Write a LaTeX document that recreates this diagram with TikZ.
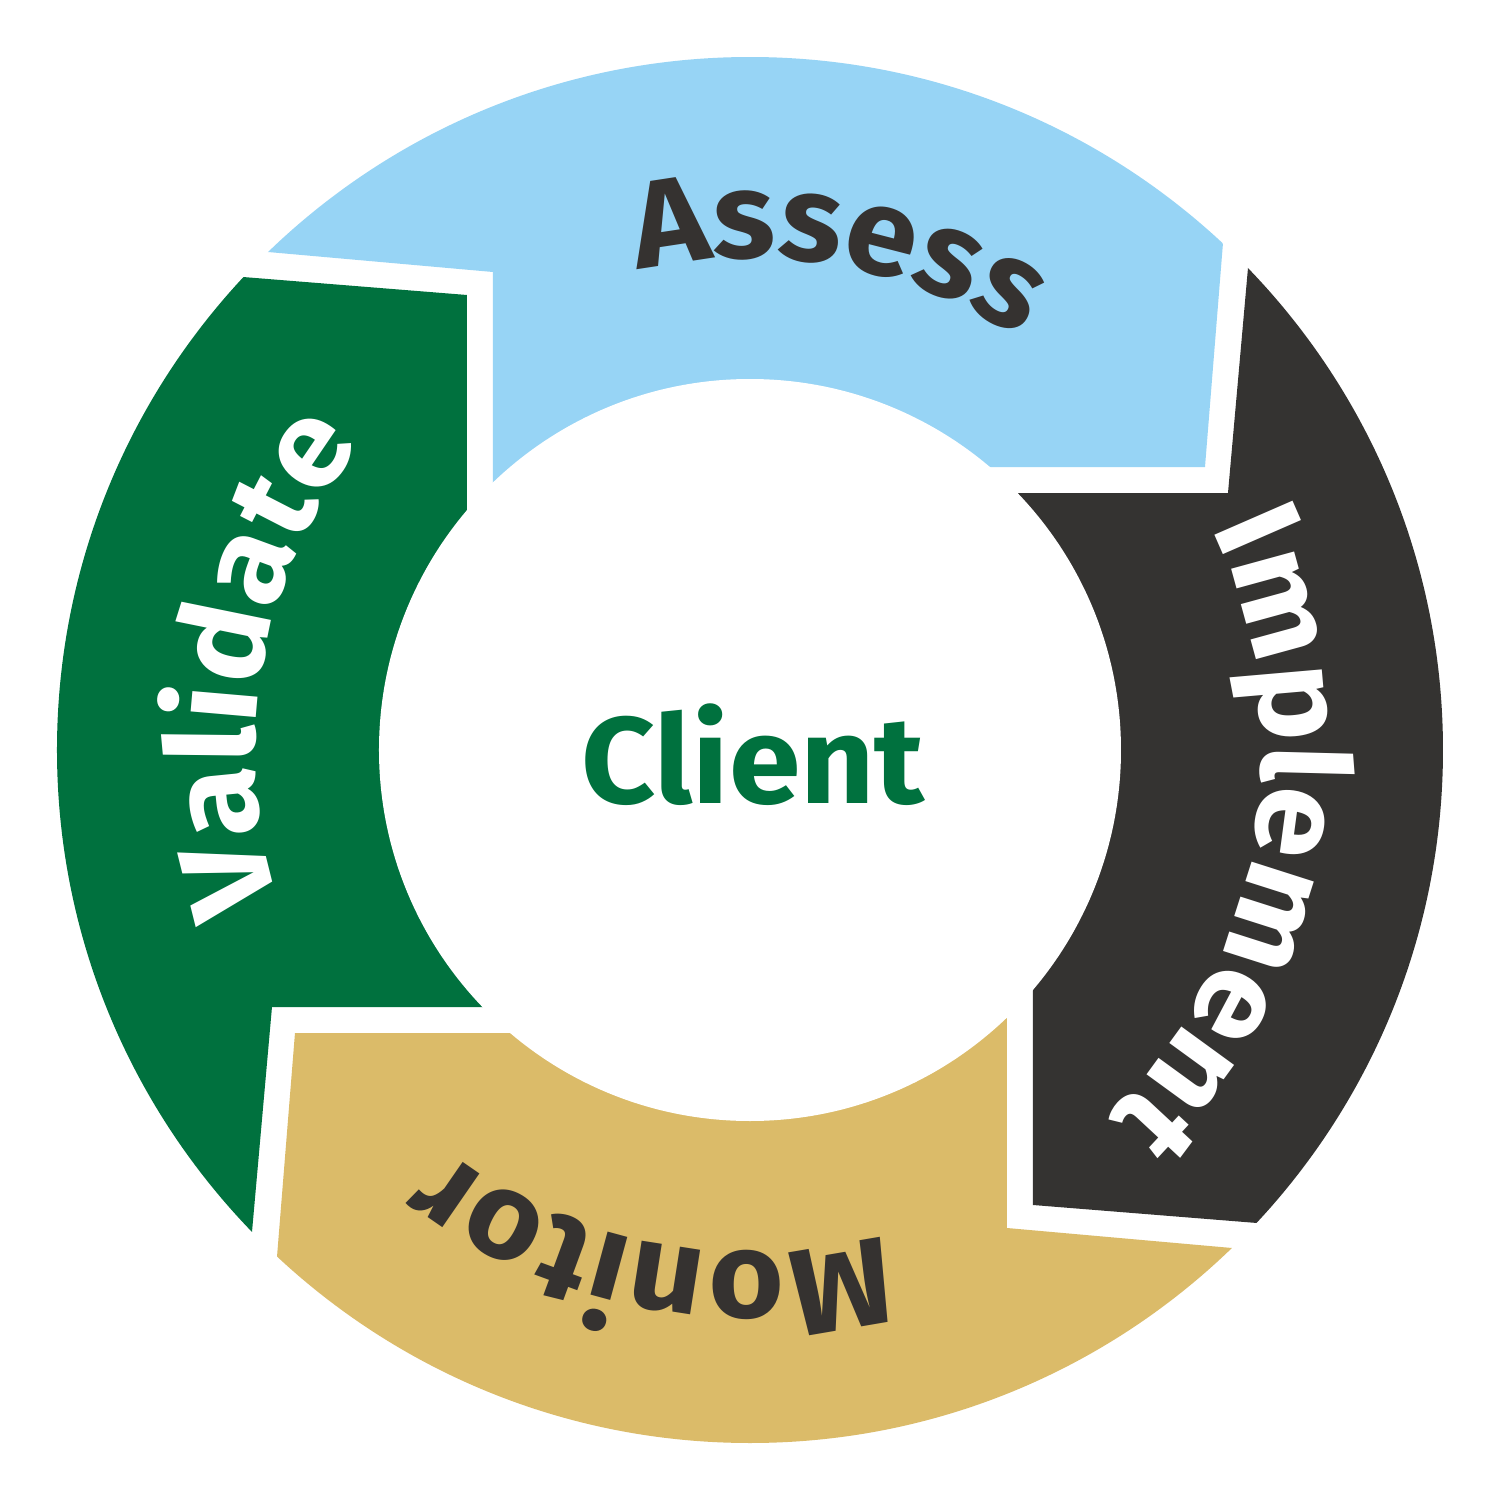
\documentclass[tikz,border=0pt]{standalone}
\usepackage{fontspec}
\setmainfont{Fira Sans}[FakeStretch=1.05]
\usetikzlibrary{decorations.text}
\definecolor{assessblue}{HTML}{97D4F5}
\definecolor{implementgray}{HTML}{343331}
\definecolor{monitortan}{HTML}{DBBB69}
\definecolor{validategreen}{HTML}{00713E}
\definecolor{inkdark}{HTML}{353230}
\newcommand{\ringfont}{\fontsize{35}{40}\selectfont\bfseries}

\begin{document}
\begin{tikzpicture}
\tikzstyle{ringtext}=[decorate, decoration={text along path, text align=center}]
\useasboundingbox (-7.5,-7.5) rectangle (7.5,7.5);
\fill[white] (-7.5,-7.5) rectangle (7.5,7.5);

% one outline, turned by 90 degrees for each step
\begin{scope}
\clip (0,0) circle (6.93);
\foreach \segcol/\turn in {assessblue/0, implementgray/-90, monitortan/-180, validategreen/-270}
  \fill[\segcol, rotate=\turn] (0,0) -- (-2.57,0) -- (-2.57,4.78) -- (-9.32,5.38) -- (-9.32,9.55)
    -- (5.09,9.55) -- (4.55,2.83) -- (2,2.83) -- cycle;
\end{scope}
\fill[white] (0,0) circle (3.71);

\node[font=\fontsize{35}{40}\selectfont\bfseries, text=validategreen] (client) at (0.03,-0.05) {Client};

% labels run clockwise, tops outward
\path[ringtext, decoration={text={|\ringfont|Assess}, text color=inkdark}]
  (140:4.92) arc[start angle=140, end angle=20, radius=4.92];
\path[ringtext, decoration={text={|\ringfont|Implement}, text color=white}]
  (50:5.12) arc[start angle=50, end angle=-70, radius=5.12];
\path[ringtext, decoration={text={|\ringfont|Monitor}, text color=inkdark}]
  (-41:5.02) arc[start angle=-41, end angle=-161, radius=5.02];
\path[ringtext, decoration={text={|\ringfont|Validate}, text color=white}]
  (230:4.95) arc[start angle=230, end angle=110, radius=4.95];
\end{tikzpicture}
\end{document}
